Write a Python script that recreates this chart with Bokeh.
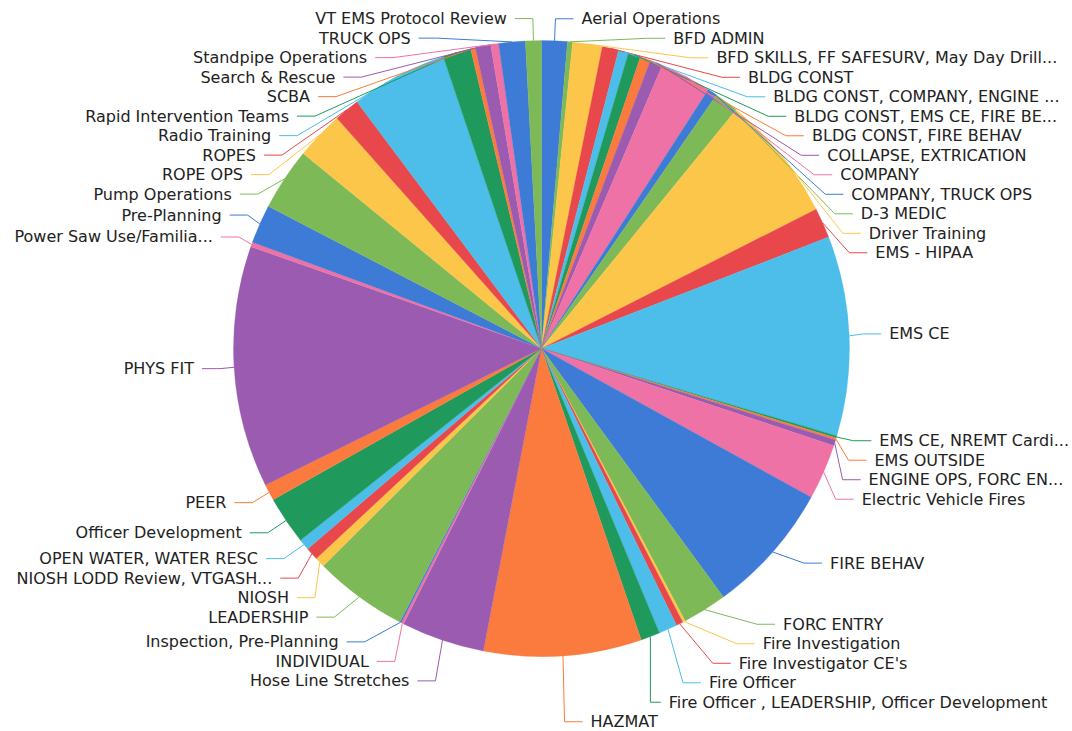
import math
from bokeh.plotting import figure
from bokeh.models import ColumnDataSource
from bokeh.embed import file_html
from bokeh.resources import INLINE
from bokeh.core.properties import value

# ---------------- data ----------------
categories = [
    "Aerial Operations", "BFD ADMIN", "BFD SKILLS, FF SAFESURV, May Day Drill...",
    "BLDG CONST", "BLDG CONST, COMPANY, ENGINE ...", "BLDG CONST, EMS CE, FIRE BE...",
    "BLDG CONST, FIRE BEHAV", "COLLAPSE, EXTRICATION", "COMPANY", "COMPANY, TRUCK OPS",
    "D-3 MEDIC", "Driver Training", "EMS - HIPAA", "EMS CE", "EMS CE, NREMT Cardi...",
    "EMS OUTSIDE", "ENGINE OPS, FORC EN...", "Electric Vehicle Fires", "FIRE BEHAV",
    "FORC ENTRY", "Fire Investigation", "Fire Investigator CE's", "Fire Officer",
    "Fire Officer , LEADERSHIP, Officer Development", "HAZMAT", "Hose Line Stretches",
    "INDIVIDUAL", "Inspection, Pre-Planning", "LEADERSHIP", "NIOSH",
    "NIOSH LODD Review, VTGASH...", "OPEN WATER, WATER RESC", "Officer Development",
    "PEER", "PHYS FIT", "Power Saw Use/Familia...", "Pre-Planning", "Pump Operations",
    "ROPE OPS", "ROPES", "Radio Training", "Rapid Intervention Teams", "SCBA",
    "Search & Rescue", "Standpipe Operations", "TRUCK OPS", "VT EMS Protocol Review",
]
values = [
    4.85, 0.95, 5.6, 3.1, 1.9, 2.35, 1.95, 2.4, 9.7, 1.8,
    4.6, 23.9, 5.7, 37.7, 0.4, 0.4, 1.1, 10.5, 24.9, 8.4,
    0.5, 1.3, 3.5, 3.6, 29.8, 15.7, 0.5, 0.3, 17.7, 1.9,
    2.4, 2.1, 9.1, 3.1, 45.6, 0.9, 7.3, 11.8, 9.1, 4.8,
    18.2, 5.3, 0.9, 2.9, 1.5, 5.0, 3.0,
]
palette = ["#3d7bd6", "#7dba57", "#fcc64b", "#e8484b", "#4dbde9",
           "#1f9a5c", "#fb7b3e", "#9a5bb1", "#ee72a5"]

# ---------------- layout constants ----------------
W, H = 1072, 731
CX, CY, R = 541.0, 348.0, 308.0      # screen coords (y down)
LEN, LEN2, DIST, LH = 22.0, 18.0, 8.0, 19.5
TOP, BOTTOM = 0.0, float(H)

n = len(values)
total = float(sum(values))
colors = [palette[i % len(palette)] for i in range(n)]
starts, ends = [], []
acc = 0.0
for v in values:
    starts.append(acc / total * 2 * math.pi)
    acc += v
    ends.append(acc / total * 2 * math.pi)

# ---------------- label layout (echarts-like pie label layout) ----------------
items = []
for i in range(n):
    mid = (starts[i] + ends[i]) / 2
    nx, ny = math.sin(mid), -math.cos(mid)
    x1, y1 = CX + R * nx, CY + R * ny
    x2, y2 = x1 + nx * LEN, y1 + ny * LEN
    sgn = -1 if nx < 0 else 1
    x3, y3 = x2 + sgn * LEN2, y2
    items.append({"i": i, "x": x3 + sgn * DIST, "y": y3,
                  "pts": [[x1, y1], [x2, y2], [x3, y3]]})


def shift_layout(lst, lo, hi):
    m = len(lst)
    if m < 2:
        return False
    lst.sort(key=lambda it: it["y"])
    state = {"adj": False}

    def top(it):
        return it["y"] - LH / 2

    last = 0.0
    for it in lst:
        delta = top(it) - last
        if delta < 0:
            it["y"] -= delta
            state["adj"] = True
        last = top(it) + LH

    def shift_list(d, s, e):
        if d != 0:
            state["adj"] = True
        for k in range(s, e):
            lst[k]["y"] += d

    def squeeze(delta, maxp):
        g = [max(top(lst[k]) - top(lst[k - 1]) - LH, 0) for k in range(1, m)]
        tot = sum(g)
        if not tot:
            return
        pct = min(abs(delta) / tot, maxp)
        if delta > 0:
            for k in range(m - 1):
                shift_list(g[k] * pct, 0, k + 1)
        else:
            for k in range(m - 1, 0, -1):
                shift_list(-g[k - 1] * pct, k, m)

    def mm():
        return top(lst[0]) - lo, hi - top(lst[-1]) - LH

    def take(g_this, g_other, mdir):
        if g_this < 0:
            mv = min(g_other, -g_this)
            if mv > 0:
                shift_list(mv * mdir, 0, m)
                rem = mv + g_this
                if rem < 0:
                    squeeze(-rem * mdir, 1)
            else:
                squeeze(-g_this * mdir, 1)

    def bailout(delta):
        d = -1 if delta < 0 else 1
        delta = abs(delta)
        each = math.ceil(delta / (m - 1))
        for k in range(m - 1):
            if d > 0:
                shift_list(each, 0, k + 1)
            else:
                shift_list(-each, m - k - 1, m)
            delta -= each
            if delta <= 0:
                return

    mn, mx = mm()
    if mn < 0:
        squeeze(-mn, 0.8)
    if mx < 0:
        squeeze(mx, 0.8)
    mn, mx = mm()
    take(mn, mx, 1)
    take(mx, mn, -1)
    mn, mx = mm()
    if mn < 0:
        bailout(-mn)
    if mx < 0:
        bailout(mx)
    return state["adj"]


def recalc_x(lst, d):
    semis = [{"list": [], "maxY": 0.0, "rB": R + LEN},
             {"list": [], "maxY": 0.0, "rB": R + LEN}]
    rA = R + LEN
    for it in lst:
        s = semis[1] if it["y"] > CY else semis[0]
        dy = abs(it["y"] - CY)
        if dy >= s["maxY"]:
            dx = it["x"] - CX - LEN2 * d
            s["rB"] = math.sqrt(dy * dy / (1 - dx * dx / rA / rA)) if abs(dx) < rA else rA
            s["maxY"] = dy
        s["list"].append(it)
    for s in semis:
        rB = s["rB"]
        for it in s["list"]:
            dy = abs(it["y"] - CY)
            dx = math.sqrt(max(0.0, 1 - dy * dy / (rB * rB)) * rA * rA)
            it["x"] = CX + (dx + LEN2) * d


left = [it for it in items if it["x"] < CX]
right = [it for it in items if it["x"] >= CX]
for lst, d in ((right, 1), (left, -1)):
    if len(lst) >= 2 and shift_layout(lst, TOP, BOTTOM):
        recalc_x(lst, d)


def limit_turn(p):
    ax, ay = p[0][0] - p[1][0], p[0][1] - p[1][1]
    bx, by = p[2][0] - p[1][0], p[2][1] - p[1][1]
    l1, l2 = math.hypot(ax, ay), math.hypot(bx, by)
    if l1 < 1e-3 or l2 < 1e-3:
        return
    if (ax * bx + ay * by) / (l1 * l2) > math.cos(math.pi / 2):
        ux, uy = bx / l2, by / l2
        t0 = ax * ux + ay * uy
        px, py = p[1][0] + ux * t0, p[1][1] + uy * t0
        t = (px - p[1][0]) / (p[2][0] - p[1][0]) if p[2][0] != p[1][0] else (py - p[1][1]) / (p[2][1] - p[1][1])
        if t < 0:
            px, py = p[1]
        elif t > 1:
            px, py = p[2]
        p[1] = [px, py]


for it in items:
    p = it["pts"]
    dd = p[1][0] - p[2][0]
    p[2][0] = it["x"] + DIST if it["x"] < CX else it["x"] - DIST
    p[1][0] = p[2][0] + dd
    p[1][1] = p[2][1] = it["y"]
    limit_turn(p)

# ---------------- drawing ----------------
wedges = ColumnDataSource(dict(
    cat=categories, val=values, color=colors,
    start=[math.pi / 2 - a for a in starts],
    end=[math.pi / 2 - a for a in ends],
))

p = figure(width=W, height=H, x_range=(0, W), y_range=(0, H),
           output_backend="svg", toolbar_location=None,
           x_axis_location=None, y_axis_location=None, min_border=0)
p.grid.visible = False
p.outline_line_color = None
p.background_fill_color = "white"

p.wedge(x=CX, y=H - CY, radius=R, start_angle="start", end_angle="end",
        direction="clock", fill_color="color", line_color="color",
        line_width=0.3, source=wedges)

lines = ColumnDataSource(dict(
    xs=[[pt[0] for pt in it["pts"]] for it in items],
    ys=[[H - pt[1] for pt in it["pts"]] for it in items],
    color=[colors[it["i"]] for it in items],
))
p.multi_line(xs="xs", ys="ys", line_color="color", line_width=1, source=lines)

for side, align in ((left, "right"), (right, "left")):
    src = ColumnDataSource(dict(
        x=[it["x"] for it in side],
        y=[H - it["y"] for it in side],
        t=[categories[it["i"]] for it in side],
    ))
    p.text(x="x", y="y", text="t", source=src, text_align=align,
           text_baseline="middle", text_font=value("DejaVu Sans"),
           text_font_size="16px", text_color="#222222")

open("out.html", "w").write(file_html(p, INLINE))
